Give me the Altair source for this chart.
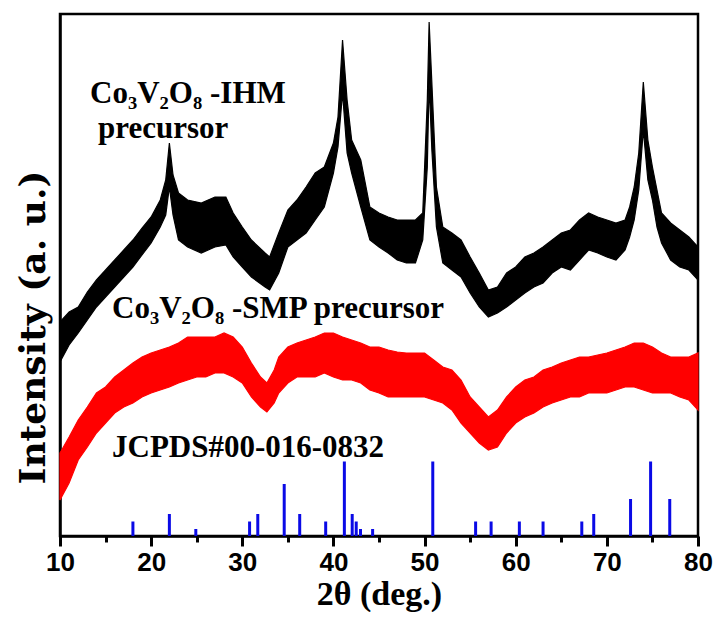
import altair as alt
import pandas as pd

# ---- data (intensity in arbitrary units) ----
black_2theta = [10, 11, 12, 13, 14, 15, 16, 17, 18, 19, 20, 21, 21.6, 22, 22.4, 23, 24, 25.5, 27, 28.2,
                29, 30, 31, 32.5, 33, 34, 35, 36, 37, 38, 39, 40, 40.5, 41, 41.5, 42, 43, 44, 45, 46,
                47, 48, 49, 49.8, 50.3, 50.5, 50.8, 51.3, 52, 53, 54, 55, 56, 57, 58, 59, 60, 61, 62,
                63, 64, 65, 66, 67, 68, 69, 70, 71, 72, 72.5, 73, 73.5, 74, 74.5, 75, 75.5, 76, 77, 78,
                79, 80]
black_upper = [214, 224, 229, 244, 256, 266, 276, 286, 296, 308, 319, 336, 356, 393, 361, 343, 336, 333, 339, 339,
               323, 309, 296, 283, 279, 303, 326, 336, 349, 363, 369, 393, 419, 496, 436, 396, 376, 329, 323, 319,
               316, 316, 316, 323, 436, 514, 453, 349, 309, 303, 296, 279, 263, 246, 249, 263, 269, 279, 283,
               289, 296, 303, 306, 316, 323, 319, 316, 313, 316, 329, 349, 383, 454, 396, 369, 346, 323, 313, 306,
               299, 289]
black_lower = [174, 191, 203, 216, 229, 239, 249, 259, 269, 281, 293, 309, 321, 349, 321, 296, 289, 283, 289, 291,
               279, 269, 259, 249, 246, 263, 289, 296, 303, 316, 329, 363, 389, 443, 383, 363, 329, 296, 289, 283,
               276, 273, 273, 296, 369, 453, 386, 309, 273, 266, 259, 243, 229, 219, 223, 229, 236, 243, 249,
               253, 263, 269, 266, 276, 286, 283, 279, 276, 286, 299, 316, 346, 406, 356, 336, 309, 293, 276, 269,
               266, 256]

red_2theta = [10, 11, 12, 13, 14, 15, 16, 17, 18, 19, 20, 21, 22, 23, 24, 25, 26, 27, 28, 29,
              30, 31, 32, 32.7, 33.5, 34, 35, 36, 37, 38, 39, 40, 41, 42, 43, 44, 45, 46, 47, 48,
              49, 50, 51, 52, 53, 54, 55, 56, 57, 58, 59, 60, 61, 62, 63, 64, 65, 66, 67, 68,
              69, 70, 71, 72, 73, 74, 75, 76, 77, 78, 79, 80]
red_upper = [83, 99, 116, 129, 143, 149, 159, 166, 173, 179, 183, 186, 189, 193, 199, 199, 199, 199, 203, 199,
             189, 173, 159, 153, 166, 179, 189, 193, 196, 199, 203, 203, 199, 196, 193, 189, 189, 186, 184, 183,
             183, 183, 176, 169, 166, 156, 139, 129, 119, 126, 139, 149, 156, 159, 166, 169, 173, 176, 179, 179,
             181, 183, 186, 189, 193, 193, 189, 183, 179, 179, 179, 183]
red_lower = [36, 53, 76, 89, 103, 113, 123, 129, 133, 139, 143, 146, 149, 153, 156, 159, 159, 163, 163, 159,
             153, 139, 129, 124, 133, 143, 153, 159, 159, 159, 163, 159, 156, 156, 153, 146, 143, 139, 139, 139,
             139, 139, 136, 133, 126, 113, 103, 93, 86, 89, 103, 113, 119, 123, 129, 133, 136, 139, 139, 143,
             143, 143, 146, 149, 149, 146, 143, 143, 143, 139, 136, 126]

ref_2theta = [18.0, 22.0, 24.9, 30.8, 31.7, 34.6, 36.3, 39.15, 41.2, 42.06, 42.5, 42.97, 44.3,
              50.9, 55.6, 57.3, 60.4, 63.0, 67.25, 68.56, 72.6, 74.8, 76.9]
ref_intensity = [14.5, 22, 7, 14.5, 22, 52, 22, 14.5, 74.5, 22, 14.5, 7, 7,
                 74.5, 14.5, 14.5, 14.5, 14.5, 14.5, 22, 37, 74.5, 37]

x_ticks = [10, 15, 20, 25, 30, 35, 40, 45, 50, 55, 60, 65, 70, 75, 80]

black_df = pd.DataFrame({"t": black_2theta, "hi": black_upper, "lo": black_lower})
red_df = pd.DataFrame({"t": red_2theta, "hi": red_upper, "lo": red_lower})
ref_df = pd.DataFrame({"t": ref_2theta, "i": ref_intensity, "z": [0] * len(ref_2theta)})

W, H = 638, 522
xscale = alt.Scale(domain=[10, 80], nice=False, zero=False)
yscale = alt.Scale(domain=[0, 522], nice=False, zero=False)

xaxis = alt.Axis(
    title="2θ (deg.)", values=x_ticks, grid=False,
    labelExpr="datum.value % 10 === 0 ? datum.label : ''",
    labelFont="Liberation Sans", labelFontWeight="bold", labelFontSize=26, labelColor="black",
    labelPadding=3, labelFlush=False, labelOverlap=False,
    tickSize={"condition": {"test": "datum.value % 10 === 0", "value": 10}, "value": 6},
    tickWidth=3, tickColor="black", domainColor="black", domainWidth=2.5,
    titleFont="Liberation Serif", titleFontWeight="bold", titleFontSize=34, titleColor="black",
    titlePadding=2,
)
yaxis = alt.Axis(
    title="Intensity (a. u.)", labels=False, ticks=False, grid=False,
    domainColor="black", domainWidth=2.5,
    titleFont="DejaVu Serif", titleFontWeight="bold", titleFontSize=36, titleColor="black",
    titleAngle=-90, titleX=-16, titleY=313, titleAlign="center", titleBaseline="alphabetic",
)

black = alt.Chart(black_df).mark_area(color="black", stroke="black", strokeWidth=1.2, interpolate="linear").encode(
    x=alt.X("t:Q", scale=xscale, axis=xaxis),
    y=alt.Y("hi:Q", scale=yscale, axis=yaxis),
    y2="lo:Q",
)
red = alt.Chart(red_df).mark_area(color="#ff0000", stroke="#ff0000", strokeWidth=1.2, interpolate="linear").encode(
    x=alt.X("t:Q", scale=xscale),
    y=alt.Y("hi:Q", scale=yscale),
    y2="lo:Q",
)
sticks = alt.Chart(ref_df).mark_rule(color="#0a0ae6", strokeWidth=3).encode(
    x=alt.X("t:Q", scale=xscale),
    y=alt.Y("i:Q", scale=yscale),
    y2="z:Q",
)

labels = pd.DataFrame({
    "txt": ["Co₃V₂O₈ -IHM", "precursor", "Co₃V₂O₈ -SMP precursor", "JCPDS#00-016-0832"],
    "px": [30, 38, 52, 52],
    "py": [89, 124, 304, 443],
})
texts = alt.Chart(labels).mark_text(
    font="Liberation Serif", fontWeight="bold", fontSize=31, color="black",
    align="left", baseline="alphabetic",
).encode(
    x=alt.X("px:Q", scale=None),
    y=alt.Y("py:Q", scale=None),
    text="txt:N",
)

chart = alt.layer(black, red, sticks, texts).properties(
    width=W, height=H,
    autosize=alt.AutoSizeParams(type="none"),
    padding={"left": 52, "top": 6, "right": 15, "bottom": 76},
    background="white",
).configure_view(stroke="black", strokeWidth=2.5)

chart.save("out.html", embed_options={"renderer": "svg", "actions": False})
